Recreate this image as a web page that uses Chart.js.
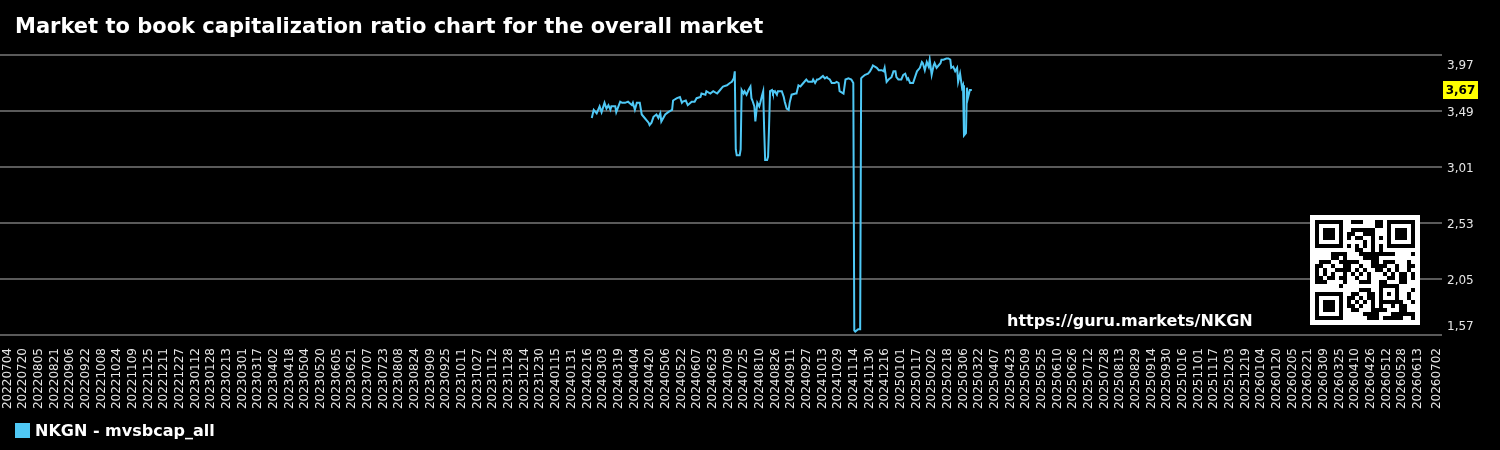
<!DOCTYPE html>
<html lang="en">
<head>
<meta charset="UTF-8">
<title>NKGN - mvsbcap_all</title>
<script src="https://cdn.jsdelivr.net/npm/chart.js@4"></script>
<style>
  html, body { margin: 0; padding: 0; background: #000; }
  #wrap { position: relative; width: 1500px; height: 450px; }
</style>
</head>
<body>
<div id="wrap"><canvas id="chart"></canvas></div>
<script>
// texts
const chartTitle = "Market to book capitalization ratio chart for the overall market";
const seriesName = "NKGN - mvsbcap_all";
const siteUrl = "https://guru.markets/NKGN";

// x axis: days counted from this date
const startDate = Date.UTC(2022, 6, 4);
const lastTickDay = 1459; // 20260702

// y axis ticks
const yTicks = [1.57, 2.05, 2.53, 3.01, 3.49, 3.97];

// day index of each observation (days since 20220704)
const days = [
  597, 599, 602, 605, 607, 610, 612, 614, 616, 617,
  621, 622, 626, 628, 631, 634, 638, 639, 641, 643,
  646, 648, 651, 655, 656, 658, 660, 663, 665, 667,
  668, 672, 675, 679, 680, 684, 687, 689, 690, 693,
  695, 699, 702, 704, 708, 709, 713, 714, 718, 721,
  725, 728, 730, 731, 735, 738, 740, 742, 743, 744,
  745, 748, 749, 750, 752, 753, 755, 757, 759, 760,
  761, 763, 764, 766, 768, 769, 771, 772, 773, 774,
  776, 777, 778, 779, 781, 782, 784, 786, 787, 791,
  793, 794, 796, 798, 799, 801, 805, 806, 808, 810,
  813, 816, 818, 822, 823, 825, 827, 828, 830, 833,
  835, 837, 838, 840, 842, 845, 847, 849, 850, 854,
  856, 859, 862, 864, 865, 866, 869, 871, 872, 873,
  876, 879, 881, 883, 884, 886, 888, 890, 893, 895,
  896, 898, 900, 903, 905, 907, 908, 910, 913, 915,
  917, 919, 920, 922, 925, 927, 929, 932, 934, 935,
  937, 939, 941, 942, 944, 946, 947, 949, 951, 953,
  954, 956, 959, 961, 963, 964, 966, 968, 970, 971,
  973, 975, 976, 977, 979, 980, 981, 983, 985
];

// market to book ratio
const ratio = [
  3.43, 3.50, 3.47, 3.53, 3.48, 3.56, 3.51, 3.54, 3.50, 3.53,
  3.53, 3.48, 3.57, 3.56, 3.56, 3.57, 3.54, 3.56, 3.50, 3.56,
  3.56, 3.46, 3.43, 3.39, 3.37, 3.39, 3.44, 3.46, 3.43, 3.47,
  3.40, 3.46, 3.48, 3.50, 3.58, 3.60, 3.61, 3.56, 3.57, 3.58,
  3.54, 3.57, 3.57, 3.60, 3.61, 3.64, 3.63, 3.66, 3.64, 3.66,
  3.64, 3.67, 3.69, 3.70, 3.71, 3.73, 3.74, 3.77, 3.83, 3.16,
  3.11, 3.11, 3.16, 3.67, 3.64, 3.66, 3.63, 3.67, 3.70, 3.60,
  3.58, 3.53, 3.40, 3.56, 3.53, 3.56, 3.63, 3.66, 3.33, 3.07,
  3.07, 3.10, 3.36, 3.66, 3.67, 3.64, 3.66, 3.63, 3.66, 3.66,
  3.61, 3.57, 3.51, 3.50, 3.56, 3.63, 3.64, 3.64, 3.71, 3.70,
  3.73, 3.76, 3.74, 3.74, 3.76, 3.73, 3.76, 3.76, 3.77, 3.79,
  3.77, 3.78, 3.77, 3.76, 3.73, 3.73, 3.74, 3.73, 3.66, 3.64,
  3.76, 3.77, 3.76, 3.73, 1.61, 1.60, 1.62, 1.62, 3.77, 3.78,
  3.80, 3.81, 3.83, 3.86, 3.88, 3.87, 3.86, 3.84, 3.84, 3.83,
  3.86, 3.74, 3.76, 3.78, 3.83, 3.83, 3.78, 3.76, 3.76, 3.80,
  3.81, 3.76, 3.77, 3.73, 3.73, 3.78, 3.83, 3.86, 3.91, 3.90,
  3.84, 3.91, 3.87, 3.93, 3.80, 3.88, 3.90, 3.86, 3.88, 3.90,
  3.93, 3.93, 3.94, 3.94, 3.93, 3.86, 3.87, 3.83, 3.86, 3.74,
  3.81, 3.69, 3.71, 3.28, 3.30, 3.69, 3.60, 3.67, 3.67
];

const lineColor = "#4fc8f5";

// ticks every 16 days, plus the closing date
const tickDays = [];
for (let d = 0; d <= 1440; d += 16) tickDays.push(d);
tickDays.push(lastTickDay);

function dayLabel(d) {
  const dt = new Date(startDate + d * 86400000);
  const m = String(dt.getUTCMonth() + 1).padStart(2, "0");
  const dd = String(dt.getUTCDate()).padStart(2, "0");
  return dt.getUTCFullYear() + m + dd;
}

const fmt = v => v.toFixed(2).replace(".", ",");

// title, axis labels, last value tag, url, qr box and legend
const decor = {
  id: "decor",
  afterDraw(chart) {
    const ctx = chart.ctx;
    const area = chart.chartArea;
    const x = chart.scales.x;
    const y = chart.scales.y;
    ctx.save();

    ctx.fillStyle = "#fff";
    ctx.font = 'bold 21px "DejaVu Sans"';
    ctx.textBaseline = "alphabetic";
    ctx.textAlign = "left";
    ctx.fillText(chartTitle, 15, 33);

    // date labels, rotated, reading upwards
    ctx.font = '12px "DejaVu Sans"';
    ctx.fillStyle = "#e6e6e6";
    ctx.textAlign = "right";
    ctx.textBaseline = "middle";
    x.ticks.forEach(t => {
      const px = x.getPixelForValue(t.value);
      ctx.save();
      ctx.translate(px + 0.5, area.bottom + 13);
      ctx.rotate(-Math.PI / 2);
      ctx.fillText(dayLabel(t.value), 0, 0);
      ctx.restore();
    });

    ctx.textAlign = "left";
    yTicks.forEach(v => {
      let py = y.getPixelForValue(v);
      py = Math.max(area.top + 9, Math.min(area.bottom - 10, py));
      ctx.fillText(fmt(v), area.right + 5, py + 1.5);
    });

    const last = ratio[ratio.length - 1];
    const ly = y.getPixelForValue(last);
    ctx.fillStyle = "#ffff00";
    ctx.fillRect(area.right + 1, ly - 9, 35, 18);
    ctx.fillStyle = "#000";
    ctx.font = 'bold 12px "DejaVu Sans"';
    ctx.textAlign = "center";
    ctx.fillText(fmt(last), area.right + 18.5, ly + 1);

    ctx.textAlign = "left";
    ctx.textBaseline = "alphabetic";
    ctx.fillStyle = "#fff";
    ctx.font = 'bold 16px "DejaVu Sans"';
    ctx.fillText(siteUrl, 1007, 326);

    drawQr(ctx, 1310, 215);

    ctx.fillStyle = lineColor;
    ctx.fillRect(15, 423, 15, 15);
    ctx.fillStyle = "#fff";
    ctx.font = 'bold 16px "DejaVu Sans"';
    ctx.fillText(seriesName, 35, 436);
    ctx.restore();
  }
};

function drawQr(ctx, x0, y0) {
  const n = 25, s = 4, q = 5;
  ctx.fillStyle = "#fff";
  ctx.fillRect(x0, y0, n * s + 2 * q, n * s + 2 * q);
  ctx.fillStyle = "#000";
  const dot = (c, r) => ctx.fillRect(x0 + q + c * s, y0 + q + r * s, s, s);
  const inFinder = (c, r) => (c < 8 && r < 8) || (c > 16 && r < 8) || (c < 8 && r > 16);
  const finder = (c0, r0) => {
    for (let r = 0; r < 7; r++)
      for (let c = 0; c < 7; c++) {
        const ring = r === 0 || r === 6 || c === 0 || c === 6;
        const core = r >= 2 && r <= 4 && c >= 2 && c <= 4;
        if (ring || core) dot(c0 + c, r0 + r);
      }
  };
  finder(0, 0); finder(18, 0); finder(0, 18);
  for (let r = 0; r < 5; r++)
    for (let c = 0; c < 5; c++)
      if (r === 0 || r === 4 || c === 0 || c === 4 || (r === 2 && c === 2)) dot(16 + c, 16 + r);
  for (let r = 0; r < n; r++)
    for (let c = 0; c < n; c++) {
      if (inFinder(c, r)) continue;
      if (c >= 16 && c <= 20 && r >= 16 && r <= 20) continue;
      if (r === 6) { if (c % 2 === 0) dot(c, r); continue; }
      if (c === 6) { if (r % 2 === 0) dot(c, r); continue; }
      const h = (r * 31 + c * 17 + r * c * 7 + (r ^ c) * 3) % 11;
      if (h < 5) dot(c, r);
    }
}

new Chart(document.getElementById("chart"), {
  type: "line",
  data: {
    datasets: [{
      label: seriesName,
      data: days.map((d, i) => ({ x: d, y: ratio[i] })),
      borderColor: lineColor,
      backgroundColor: lineColor,
      borderWidth: 2,
      pointRadius: 0,
      tension: 0,
      fill: false
    }]
  },
  options: {
    responsive: true,
    maintainAspectRatio: false,
    animation: false,
    layout: { padding: { top: 55, right: 58, left: 0, bottom: 42 } },
    plugins: { legend: { display: false }, title: { display: false }, tooltip: { enabled: false } },
    scales: {
      x: {
        type: "linear",
        min: -7.15,
        max: 1465,
        grid: { display: false },
        border: { display: false },
        afterBuildTicks: s => { s.ticks = tickDays.map(v => ({ value: v })); },
        afterFit: s => { s.height = 73; s.paddingLeft = 0; s.paddingRight = 0; },
        ticks: { display: false, autoSkip: false }
      },
      y: {
        position: "right",
        min: 1.57,
        max: 3.97,
        afterBuildTicks: s => { s.ticks = yTicks.map(v => ({ value: v })); },
        afterFit: s => { s.width = 0; },
        grid: { color: "#5a5a5a", lineWidth: 2, drawTicks: false },
        border: { display: false },
        ticks: { display: false }
      }
    }
  },
  plugins: [decor]
});
</script>
</body>
</html>
